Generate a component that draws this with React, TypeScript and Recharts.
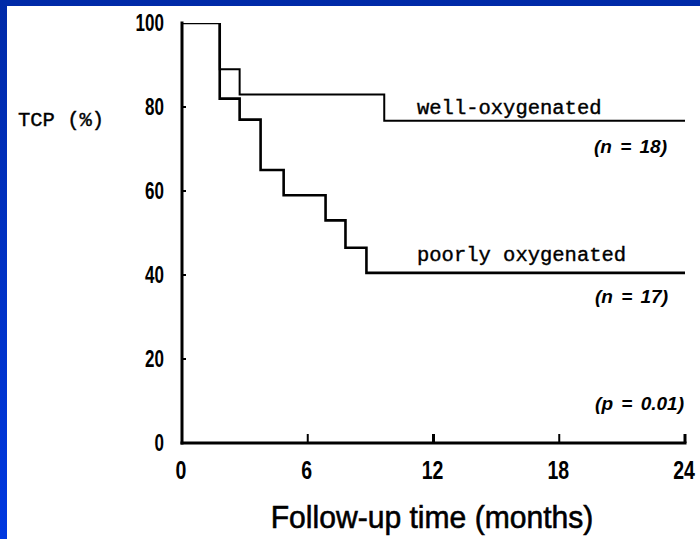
import React from "react";
import { LineChart, Line, XAxis, YAxis } from "recharts";

// Follow-up time (months) at each step and TCP (%) level
const wellTimes = [0, 1.8, 2.75, 9.65, 24];
const wellValues = [100, 89, 83, 76.7, 76.7];
const poorTimes = [0, 1.8, 2.75, 3.75, 4.85, 6.85, 7.8, 8.8, 24];
const poorValues = [100, 82, 77, 65, 59, 53, 46.5, 40.5, 40.5];

const xTicks = [0, 6, 12, 18, 24];
const yTicks = [0, 20, 40, 60, 80, 100];

const wellData = wellTimes.map((t, i) => ({ t, v: wellValues[i] }));
const poorData = poorTimes.map((t, i) => ({ t, v: poorValues[i] }));

const monoFont = "'Liberation Mono', 'DejaVu Sans Mono', monospace";
const sansFont = "'Liberation Sans', Arial, sans-serif";

const YTick = (props: any) => {
  const { x, y, payload } = props;
  const v = payload.value;
  return (
    <g>
      {v > 0 && v < 100 && (
        <line x1={x} y1={y} x2={x + 4} y2={y} stroke="#000" strokeWidth={2} />
      )}
      <text
        transform={`translate(${x - 18},${y + 8}) scale(0.74,1)`}
        textAnchor="end"
        fontFamily={sansFont}
        fontWeight="bold"
        fontSize={23}
        fill="#000"
      >
        {v}
      </text>
    </g>
  );
};

const XTick = (props: any) => {
  const { x, y, payload } = props;
  const v = payload.value;
  return (
    <g>
      {v > 0 && (
        <line
          x1={x}
          y1={y}
          x2={x}
          y2={y - 9}
          stroke="#000"
          strokeWidth={v === 12 || v === 24 ? 3 : 2}
        />
      )}
      <text
        transform={`translate(${x - 1},${y + 36}) scale(0.78,1)`}
        textAnchor="middle"
        fontFamily={sansFont}
        fontWeight="bold"
        fontSize={25}
        fill="#000"
      >
        {v}
      </text>
    </g>
  );
};

export default function App() {
  return (
    <div
      style={{
        position: "absolute",
        left: 0,
        top: 0,
        width: 700,
        height: 539,
        background: "linear-gradient(to bottom, #002aa8, #0038e0)",
        overflow: "hidden",
      }}
    >
      <div
        style={{
          position: "absolute",
          left: 7,
          top: 6,
          width: 693,
          height: 533,
          background: "#fff",
        }}
      />
      <div style={{ position: "absolute", left: 0, top: 0 }}>
        <LineChart
          width={700}
          height={539}
          margin={{ top: 23, right: 15, bottom: 0, left: 0 }}
        >
          <XAxis
            type="number"
            dataKey="t"
            domain={[0, 24]}
            ticks={xTicks}
            allowDataOverflow
            height={96}
            tickSize={0}
            tickMargin={0}
            tickLine={false}
            axisLine={{ stroke: "#000", strokeWidth: 3, strokeLinecap: "square" }}
            tick={<XTick />}
            interval={0}
          />
          <YAxis
            type="number"
            domain={[0, 100]}
            ticks={yTicks}
            allowDataOverflow
            width={182}
            tickSize={0}
            tickMargin={0}
            tickLine={false}
            axisLine={{ stroke: "#000", strokeWidth: 3, strokeLinecap: "square" }}
            tick={<YTick />}
            interval={0}
          />
          <Line
            data={poorData}
            dataKey="v"
            type="stepAfter"
            stroke="#000"
            strokeWidth={2.6}
            strokeLinejoin="miter"
            dot={false}
            activeDot={false}
            isAnimationActive={false}
          />
          <Line
            data={wellData}
            dataKey="v"
            type="stepAfter"
            stroke="#000"
            strokeWidth={2}
            strokeLinejoin="miter"
            dot={false}
            activeDot={false}
            isAnimationActive={false}
          />
        </LineChart>
      </div>
      <svg
        width={700}
        height={539}
        style={{ position: "absolute", left: 0, top: 0, pointerEvents: "none" }}
      >
        <g fill="#000" stroke="#000" strokeWidth={0.4} fontFamily={monoFont}>
          <text x={18} y={126} fontSize={20.5}>
            TCP (%)
          </text>
          <text x={417} y={114} fontSize={20.5}>
            well-oxygenated
          </text>
          <text x={417} y={261} fontSize={20.5}>
            poorly oxygenated
          </text>
        </g>
        <g fontFamily={sansFont} fontStyle="italic" fontWeight="bold" fontSize={19} fill="#000">
          <text x={667} y={153} textAnchor="end" wordSpacing={3}>
            (n = 18)
          </text>
          <text x={668} y={303} textAnchor="end" wordSpacing={3}>
            (n = 17)
          </text>
          <text x={684} y={410} textAnchor="end" wordSpacing={3}>
            (p = 0.01)
          </text>
        </g>
        <text
          transform="translate(432,528) scale(0.94,1)"
          textAnchor="middle"
          fontFamily={sansFont}
          fontSize={32}
          fill="#000"
          stroke="#000"
          strokeWidth={0.6}
        >
          Follow-up time (months)
        </text>
      </svg>
    </div>
  );
}
